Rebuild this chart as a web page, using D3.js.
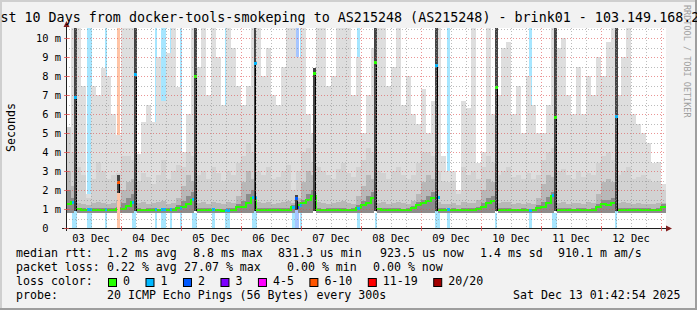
<!DOCTYPE html>
<html>
<head>
<meta charset="utf-8">
<script src="https://cdn.jsdelivr.net/npm/d3@7/dist/d3.min.js"></script>
<style>
body{margin:0;background:#f2f2f2;}
svg{display:block;}
text{font-family:"DejaVu Sans Mono",monospace;fill:#000;}
</style>
</head>
<body>
<div id="chart"></div>
<script>
// ---- data ----
var title = "Last 10 Days from docker-tools-smokeping to AS215248 (AS215248) - brink01 - 103.149.168.2";
var days = ["03 Dec","04 Dec","05 Dec","06 Dec","07 Dec","08 Dec","09 Dec","10 Dec","11 Dec","12 Dec"];
var yTicks = [0,1,2,3,4,5,6,7,8,9,10];
var lossLabels = ["0","1","2","3","4-5","6-10","11-19","20/20"];
var lossColors = ["#26ff00","#00b8ff","#0059ff","#7e00ff","#ff00ff","#ff5500","#ff0000","#a10000"];

// smoke, one value per 2 hours from 03 Dec 00:00 (ms)
var smokeTop = [
  5.3,5.3,10.6,10.6,7.5,1.8,7.5,7.0,8.4,8.0,6.0,4.9,
  10.6,10.6,10.6,3.9,5.6,6.5,5.6,9.0,6.7,9.2,10.6,7.4,
  4.0,6.0,10.6,8.5,10.6,7.0,10.6,9.0,6.5,10.6,9.5,7.5,
  6.5,7.5,10.6,10.6,8.0,9.5,7.0,6.5,8.5,10.6,10.6,9.0,
  10.6,6.0,5.0,10.6,10.6,7.5,8.0,10.6,10.6,10.6,7.0,9.0,
  5.0,7.0,9.5,10.6,10.6,7.5,8.5,10.6,6.5,8.0,6.0,5.5,
  7.3,5.0,6.7,10.6,3.8,3.0,3.0,2.0,6.7,6.3,10.6,3.4,
  4.0,10.6,6.0,7.0,9.5,9.8,6.0,7.5,5.0,8.0,6.5,5.0,
  5.0,6.5,10.6,9.5,10.0,7.0,6.0,8.5,6.0,8.0,7.0,9.0,
  8.0,9.8,10.6,7.0,9.0,10.6,6.0,5.5,5.0,4.5,3.4,3.5,
  2.3
];
var smokeMid = [
  5.0,5.3,4.0,3.2,2.8,1.6,2.6,3.5,3.0,2.6,2.8,2.9,
  3.8,3.8,3.6,2.5,2.9,2.7,2.3,2.8,3.6,2.6,3.0,3.3,
  3.2,4.0,3.8,2.8,3.0,2.6,3.2,2.9,2.5,3.0,2.8,3.4,
  3.8,4.5,4.0,3.0,2.8,3.2,2.6,2.7,3.0,3.3,2.0,3.0,
  4.0,4.2,3.5,3.2,3.0,2.8,2.6,3.1,3.4,2.9,2.7,3.2,
  3.6,4.2,4.0,3.0,2.9,2.6,3.0,3.2,2.8,2.6,2.8,3.4,
  4.0,4.0,3.8,3.0,2.5,2.4,2.5,1.8,3.2,2.8,3.0,2.6,
  3.2,3.8,3.5,2.8,3.0,3.2,2.7,2.8,2.6,2.9,2.6,2.8,
  3.6,4.0,4.2,3.0,3.1,2.8,2.6,3.0,2.7,2.9,2.8,3.4,
  3.8,4.0,3.6,2.8,3.0,3.2,2.6,2.7,2.8,2.6,2.4,2.5,
  2.0
];
var smokeDark = [
  2.8,3.0,2.2,1.3,1.25,1.2,1.3,1.35,1.3,1.25,1.3,1.5,
  2.0,2.4,2.6,1.3,1.35,1.25,1.3,1.35,1.4,1.25,1.3,1.6,
  2.2,2.8,2.5,1.3,1.35,1.25,1.35,1.3,1.25,1.35,1.3,1.7,
  2.4,3.0,2.6,1.35,1.3,1.35,1.25,1.3,1.35,1.4,1.3,1.6,
  2.4,3.0,2.8,1.35,1.3,1.25,1.3,1.35,1.4,1.3,1.25,1.7,
  2.2,2.8,2.6,1.3,1.35,1.25,1.3,1.35,1.3,1.25,1.4,1.8,
  2.4,2.8,2.6,1.35,1.25,1.25,1.3,1.2,1.35,1.3,1.3,1.5,
  2.0,2.6,2.4,1.3,1.35,1.35,1.25,1.3,1.25,1.3,1.25,1.6,
  2.3,2.8,2.7,1.3,1.35,1.25,1.3,1.3,1.25,1.35,1.3,1.8,
  2.4,2.6,2.4,1.3,1.35,1.3,1.25,1.3,1.25,1.25,1.25,1.3,
  1.3
];
var smokeCore = [
  1.8,2.0,1.6,1.05,1.05,1.0,1.05,1.05,1.05,1.05,1.05,1.1,
  1.3,1.6,1.8,1.05,1.0,1.05,1.05,1.0,1.05,1.05,1.05,1.2,
  1.4,1.7,1.9,1.05,1.05,1.05,1.0,1.0,1.0,1.05,1.05,1.25,
  1.4,1.8,2.0,1.05,1.05,1.05,1.05,1.05,1.05,1.05,1.2,1.35,
  1.5,1.8,2.0,1.05,1.0,1.05,1.05,1.05,1.05,1.0,1.05,1.2,
  1.4,1.7,1.9,1.05,1.05,1.05,1.05,1.05,1.0,1.05,1.15,1.35,
  1.5,1.7,1.9,1.05,1.05,1.0,1.05,1.0,1.05,1.05,1.05,1.1,
  1.3,1.6,1.7,1.05,1.05,1.05,1.0,1.0,1.05,1.0,1.0,1.2,
  1.35,1.65,1.9,1.05,1.05,1.05,1.0,1.05,1.05,1.0,1.05,1.25,
  1.45,1.5,1.6,1.05,1.05,1.05,1.05,1.05,1.05,1.05,1.0,1.05,
  1.25
];
var median = [
  1.1,1.25,1.35,0.98,0.96,0.95,0.96,0.97,0.95,0.96,0.96,0.98,
  1.0,1.15,1.35,0.97,0.95,0.96,0.95,0.94,0.96,0.95,0.97,1.05,
  1.1,1.25,1.5,0.96,0.95,0.97,0.95,0.93,0.92,0.95,0.97,1.1,
  1.1,1.3,1.6,0.97,0.95,0.96,0.95,0.96,0.97,0.95,1.1,1.2,
  1.3,1.5,1.7,0.96,0.94,0.96,0.95,0.96,0.95,0.94,0.97,1.05,
  1.2,1.3,1.6,0.98,0.96,0.97,0.96,0.97,0.95,0.97,1.05,1.2,
  1.3,1.4,1.6,0.97,0.96,0.95,0.96,0.94,0.96,0.97,0.95,1.0,
  1.1,1.3,1.4,0.96,0.95,0.96,0.95,0.94,0.95,0.93,0.94,1.05,
  1.1,1.3,1.7,0.96,0.95,0.96,0.94,0.95,0.95,0.94,0.95,1.1,
  1.25,1.2,1.3,0.96,0.97,0.95,0.96,0.95,0.96,0.95,0.94,0.95,
  1.1
];

// columns with loss: start hour, length in hours, loss class
var lossHour = [4.4,10.4,17.6,22.4,28.4,37.6,40.0,43.6,47.6,52.4,60.4,65.6,76.4,92.4,93.6,95.6,118.4,125.6,149.6,154.4,173.6,187.2,196.4,221.6];
var lossLen  = [2.0,2.0,0.8,1.2,1.6,0.8,2.0,0.8,0.8,2.0,1.2,2.0,2.0,1.2,1.6,0.8,1.2,0.8,2.0,1.2,0.8,1.2,2.0,0.8];
var lossCls  = [1,1,1,5,1,1,1,1,1,1,1,1,1,1,2,1,1,1,1,1,1,1,1,1];

// short columns where the pings spread high: hour, lowest, median, highest (ms), loss class
var spikeHour = [5.8,29.8,53.6,77.6,101.6,125.6,150.0,174.0,197.8,222.0,22.8,94.0];
var spikeLow  = [0.9,0.9,0.9,0.9,0.9,0.9,0.9,0.9,0.9,0.9,1.85,0.95];
var spikePeak = [6.9,8.1,8.0,8.7,8.15,8.75,8.6,7.4,5.85,5.9,2.4,1.6];
var spikeTop  = [10.6,10.6,10.6,10.6,8.4,10.6,10.6,10.6,10.6,10.6,2.8,1.75];
var spikeLoss = [1,1,0,1,0,0,1,0,0,1,5,2];

var rttStats  = ["1.2 ms avg","8.8 ms max","831.3 us min","923.5 us now","1.4 ms sd","910.1 m am/s"];
var lossStats = ["0.22 % avg","27.07 % max","0.00 % min","0.00 % now"];
var probeText = "20 ICMP Echo Pings (56 Bytes) every 300s";
var stamp = "Sat Dec 13 01:42:54 2025";

// ---- layout ----
var W=697, H=310;
var BIN=2, FLOOR=0.8, YMAX=200/19;
var rttCols=[107,193,278,380,480,558], lossCols=[107,184,287,373];
var shades=["#dedede","#d2d2d2","#b8b8b8","#8c8c8c"];
function lossBg(c){return d3.interpolateRgb("#ffffff",c)(0.35);}

var x=d3.scaleLinear().domain([2,242]).range([66,666]);
var y=d3.scaleLinear().domain([0,YMAX]).range([228,28]);

var svg=d3.select("#chart").append("svg").attr("width",W).attr("height",H);

// frame
svg.append("rect").attr("width",W).attr("height",H).attr("fill","#f2f2f2");
svg.append("rect").attr("width",W).attr("height",2).attr("fill","#cfcfcf");
svg.append("rect").attr("width",2).attr("height",H).attr("fill","#cfcfcf");
svg.append("rect").attr("y",H-2).attr("width",W).attr("height",2).attr("fill","#9e9e9e");
svg.append("rect").attr("x",W-2).attr("width",2).attr("height",H).attr("fill","#9e9e9e");

svg.append("defs").append("clipPath").attr("id","plotclip").append("rect")
  .attr("x",x.range()[0]).attr("y",y.range()[1]).attr("width",x.range()[1]-x.range()[0]).attr("height",y.range()[0]-y.range()[1]);
svg.append("rect").attr("x",x.range()[0]).attr("y",y.range()[1]).attr("width",x.range()[1]-x.range()[0]).attr("height",y.range()[0]-y.range()[1]).attr("fill","#fff");

var g=svg.append("g").attr("clip-path","url(#plotclip)").attr("shape-rendering","crispEdges");

// loss background
g.selectAll(".lossbg").data(lossHour).join("rect")
  .attr("x",function(h){return x(h);}).attr("y",y(YMAX))
  .attr("width",function(h,i){return x(h+lossLen[i])-x(h);}).attr("height",y(0)-y(YMAX))
  .attr("fill",function(h,i){return lossBg(lossColors[lossCls[i]]);});

// smoke
var layers=[smokeTop,smokeMid,smokeDark,smokeCore];
layers.forEach(function(arr,li){
  g.selectAll(".smoke"+li).data(arr).join("rect")
    .attr("x",function(v,i){return x(i*BIN);}).attr("width",function(v,i){return x((i+1)*BIN)-x(i*BIN);})
    .attr("y",function(v){return y(v);}).attr("height",function(v){return Math.max(0,y(FLOOR)-y(v));})
    .attr("fill",shades[li]);
});

// median line
var medPts=median.map(function(v,i){return [i*BIN,v];});
medPts.push([median.length*BIN,median[median.length-1]]);
g.append("path").datum(medPts)
  .attr("d",d3.line().x(function(p){return x(p[0]);}).y(function(p){return y(p[1]);}).curve(d3.curveStepAfter))
  .attr("fill","none").attr("stroke",lossColors[0]).attr("stroke-width",2);
g.selectAll(".lossmed").data(lossHour).join("rect")
  .attr("x",function(h){return x(h);}).attr("width",function(h,i){return x(h+lossLen[i])-x(h);})
  .attr("y",function(h){return y(median[Math.floor(h/BIN)])-1.5;}).attr("height",3)
  .attr("fill",function(h,i){return lossColors[lossCls[i]];});

// spikes
spikeHour.forEach(function(h,i){
  var x0=Math.round(x(h-0.6)), x1=Math.round(x(h+0.6));
  var c=spikeLoss[i]>0?lossBg(lossColors[spikeLoss[i]]):"#ffffff";
  g.append("rect").attr("x",x0).attr("width",x1-x0).attr("y",y(spikeLow[i])).attr("height",y(FLOOR)-y(spikeLow[i])).attr("fill",c);
  g.append("rect").attr("x",x0).attr("width",x1-x0).attr("y",y(spikeTop[i])).attr("height",y(spikeLow[i])-y(spikeTop[i])).attr("fill","#444444");
  g.append("rect").attr("x",x1-1.5).attr("width",1).attr("y",y(spikePeak[i])).attr("height",y(spikeLow[i])-y(spikePeak[i])).attr("fill","#000");
  g.append("rect").attr("x",x0).attr("width",3).attr("y",Math.round(y(spikePeak[i]))-1).attr("height",3).attr("fill",lossColors[spikeLoss[i]]);
});

// grid on top
var grid=svg.append("g").attr("fill","none").attr("stroke-width",1).attr("stroke-dasharray","1,2");
d3.range(0.5,YMAX,0.5).forEach(function(v){
  var major=v%1===0;
  grid.append("line").attr("x1",x.range()[0]).attr("x2",x.range()[1]).attr("y1",Math.round(y(v))+0.5).attr("y2",Math.round(y(v))+0.5)
    .attr("stroke",major?"rgba(222,79,79,0.6)":"rgba(143,143,143,0.6)");
});
d3.range(6,242,6).forEach(function(h){
  var major=h%24===0;
  grid.append("line").attr("y1",y(YMAX)).attr("y2",y(0)).attr("x1",Math.round(x(h))+0.5).attr("x2",Math.round(x(h))+0.5)
    .attr("stroke",major?"rgba(222,79,79,0.6)":"rgba(143,143,143,0.6)");
});

// axes
svg.append("line").attr("x1",62).attr("x2",668).attr("y1",228.5).attr("y2",228.5).attr("stroke","#1f1f1f");
svg.append("line").attr("x1",66.5).attr("x2",66.5).attr("y1",231).attr("y2",25).attr("stroke","#1f1f1f");
svg.append("path").attr("d","M672,228.5L666,225.5L666,231.5Z").attr("fill","#801f1f");
svg.append("path").attr("d","M66.5,21L63.5,27L69.5,27Z").attr("fill","#801f1f");
d3.range(24,242,24).forEach(function(h){
  svg.append("line").attr("x1",Math.round(x(h))+0.5).attr("x2",Math.round(x(h))+0.5).attr("y1",226).attr("y2",231).attr("stroke","rgba(222,79,79,0.8)");
});
yTicks.forEach(function(v){
  svg.append("line").attr("x1",64).attr("x2",69).attr("y1",Math.round(y(v))+0.5).attr("y2",Math.round(y(v))+0.5).attr("stroke","rgba(222,79,79,0.8)");
});

svg.selectAll(".ylab").data(yTicks).join("text")
  .attr("x",61).attr("y",function(v){return y(v)+3.8;}).attr("text-anchor","end").attr("font-size","10.4px")
  .text(function(v){return v===0?"0\u00a0\u00a0":v+" m";});
svg.selectAll(".xlab").data(days).join("text")
  .attr("x",function(d,i){return x(12+24*i);}).attr("y",241.5).attr("text-anchor","middle").attr("font-size","10.4px")
  .text(function(d){return d;});

svg.append("text").attr("transform","translate(14.5,127.5) rotate(-90)").attr("text-anchor","middle").attr("font-size","11.6px").text("Seconds");
svg.append("text").attr("x",-15.7).attr("y",22).attr("font-size","13.35px").text(title);
svg.append("text").attr("transform","translate(684,5) rotate(90)").attr("font-size","8.5px").style("fill","#a0a0a0").text("RRDTOOL / TOBI OETIKER");

// legend
var lg=svg.append("g").attr("font-size","11.6px");
function row(label,yb){lg.append("text").attr("x",16).attr("y",yb).text(label);}
row("median rtt:",257); row("packet loss:",271); row("loss color:",285); row("probe:",299);
rttStats.forEach(function(t,i){lg.append("text").attr("x",rttCols[i]).attr("y",257).text(t);});
lossStats.forEach(function(t,i){lg.append("text").attr("x",lossCols[i]).attr("y",271).text(t);});
lg.append("text").attr("x",107).attr("y",299).text(probeText);
lg.append("text").attr("x",513).attr("y",299).text(stamp);
var cx=108;
lossLabels.forEach(function(l,i){
  lg.append("rect").attr("x",cx+0.5).attr("y",278.5).attr("width",8).attr("height",8).attr("fill",lossColors[i]).attr("stroke","#000");
  var t=lg.append("text").attr("x",cx+15).attr("y",285).text(l);
  cx+=15+t.node().getComputedTextLength()+15.5;
});
</script>
</body>
</html>
